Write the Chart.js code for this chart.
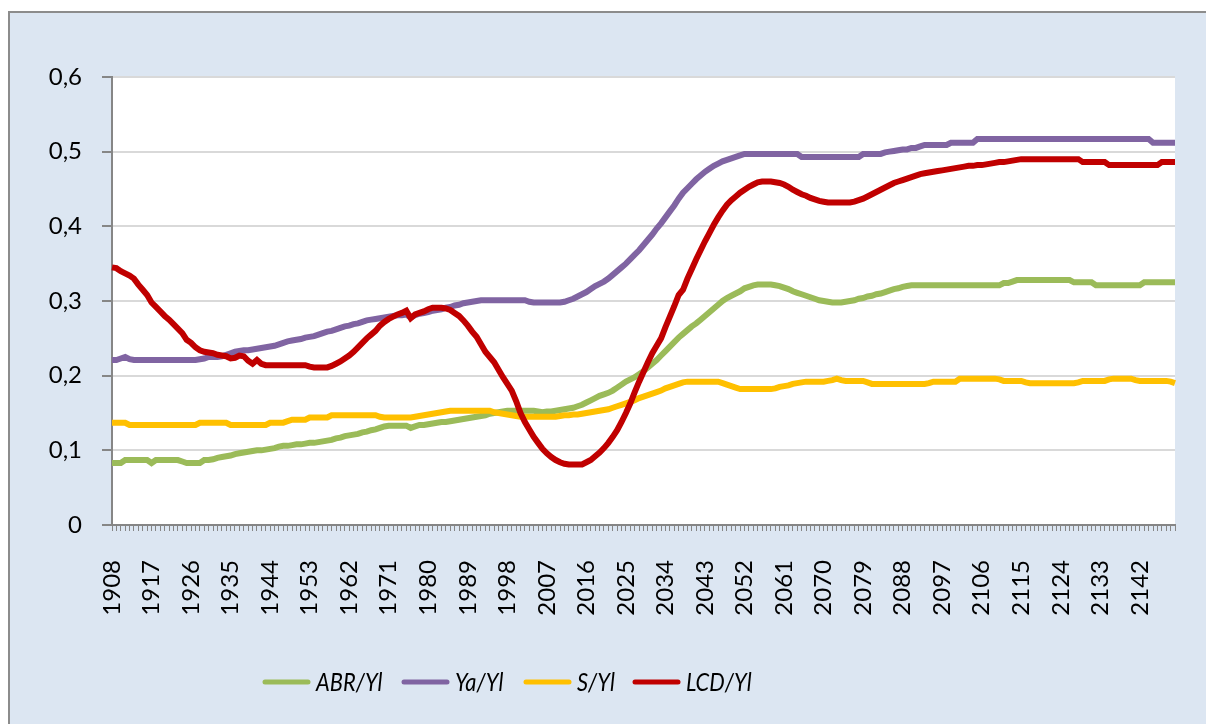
<!DOCTYPE html>
<html>
<head>
<meta charset="utf-8">
<script src="https://cdn.jsdelivr.net/npm/chart.js@4.4.1/dist/chart.umd.min.js"></script>
<style>
    html, body { margin: 0; padding: 0; background: #fff; }
    body { width: 1206px; height: 724px; position: relative; overflow: hidden; }
    .frame { position: absolute; left: 8px; top: 11px; width: 1220px; height: 740px; background: #dce6f2; border: 2px solid #8c8c8c; }
    .holder { position: absolute; left: 0; top: 0; width: 1206px; height: 724px; }
</style>
</head>
<body>
<div class="frame"></div>
<div class="holder"><canvas id="chart" width="1206" height="724"></canvas></div>
<script>
// categories: one per year
const YEARS = [];
for (let y = 1908; y <= 2150; y++) YEARS.push(String(y));

const SERIES_NAMES = ['ABR/Yl', 'Ya/Yl', 'S/Yl', 'LCD/Yl'];
const SERIES_COLORS = ['#9bbb59', '#8064a2', '#ffc000', '#c00000'];

// values, rows of 10 years starting 1908
const ABR_YL = [
    0.083, 0.083, 0.083, 0.087, 0.087, 0.087, 0.087, 0.087, 0.087, 0.083,
    0.087, 0.087, 0.087, 0.087, 0.087, 0.087, 0.085, 0.083, 0.083, 0.083,
    0.083, 0.087, 0.087, 0.088, 0.090, 0.091, 0.092, 0.093, 0.095, 0.096,
    0.097, 0.098, 0.099, 0.100, 0.100, 0.101, 0.102, 0.103, 0.105, 0.106,
    0.106, 0.107, 0.108, 0.108, 0.109, 0.110, 0.110, 0.111, 0.112, 0.113,
    0.114, 0.116, 0.117, 0.119, 0.120, 0.121, 0.122, 0.124, 0.125, 0.127,
    0.128, 0.130, 0.132, 0.133, 0.133, 0.133, 0.133, 0.133, 0.130, 0.132,
    0.134, 0.134, 0.135, 0.136, 0.137, 0.138, 0.138, 0.139, 0.140, 0.141,
    0.142, 0.143, 0.144, 0.145, 0.146, 0.147, 0.149, 0.150, 0.151, 0.152,
    0.153, 0.153, 0.153, 0.153, 0.153, 0.153, 0.153, 0.152, 0.151, 0.152,
    0.152, 0.153, 0.154, 0.155, 0.156, 0.157, 0.159, 0.161, 0.164, 0.167,
    0.170, 0.173, 0.175, 0.177, 0.180, 0.184, 0.188, 0.192, 0.195, 0.198,
    0.202, 0.206, 0.211, 0.216, 0.221, 0.227, 0.233, 0.239, 0.245, 0.251,
    0.256, 0.261, 0.266, 0.270, 0.275, 0.280, 0.285, 0.290, 0.295, 0.300,
    0.304, 0.307, 0.310, 0.313, 0.317, 0.319, 0.321, 0.322, 0.322, 0.322,
    0.322, 0.321, 0.320, 0.318, 0.316, 0.313, 0.311, 0.309, 0.307, 0.305,
    0.303, 0.301, 0.300, 0.299, 0.298, 0.298, 0.298, 0.299, 0.300, 0.301,
    0.303, 0.304, 0.306, 0.307, 0.309, 0.310, 0.312, 0.314, 0.316, 0.317,
    0.319, 0.320, 0.321, 0.321, 0.321, 0.321, 0.321, 0.321, 0.321, 0.321,
    0.321, 0.321, 0.321, 0.321, 0.321, 0.321, 0.321, 0.321, 0.321, 0.321,
    0.321, 0.321, 0.321, 0.324, 0.324, 0.326, 0.328, 0.328, 0.328, 0.328,
    0.328, 0.328, 0.328, 0.328, 0.328, 0.328, 0.328, 0.328, 0.328, 0.325,
    0.325, 0.325, 0.325, 0.325, 0.321, 0.321, 0.321, 0.321, 0.321, 0.321,
    0.321, 0.321, 0.321, 0.321, 0.321, 0.325, 0.325, 0.325, 0.325, 0.325,
    0.325, 0.325, 0.325
];

const YA_YL = [
    0.221, 0.221, 0.223, 0.225, 0.222, 0.221, 0.221, 0.221, 0.221, 0.221,
    0.221, 0.221, 0.221, 0.221, 0.221, 0.221, 0.221, 0.221, 0.221, 0.221,
    0.222, 0.223, 0.225, 0.225, 0.225, 0.226, 0.228, 0.230, 0.232, 0.233,
    0.234, 0.234, 0.235, 0.236, 0.237, 0.238, 0.239, 0.240, 0.242, 0.244,
    0.246, 0.247, 0.248, 0.249, 0.251, 0.252, 0.253, 0.255, 0.257, 0.259,
    0.260, 0.262, 0.264, 0.266, 0.267, 0.269, 0.270, 0.272, 0.274, 0.275,
    0.276, 0.277, 0.278, 0.279, 0.280, 0.281, 0.281, 0.282, 0.278, 0.281,
    0.283, 0.284, 0.285, 0.287, 0.288, 0.289, 0.291, 0.292, 0.294, 0.295,
    0.297, 0.298, 0.299, 0.300, 0.301, 0.301, 0.301, 0.301, 0.301, 0.301,
    0.301, 0.301, 0.301, 0.301, 0.301, 0.299, 0.298, 0.298, 0.298, 0.298,
    0.298, 0.298, 0.298, 0.299, 0.301, 0.303, 0.306, 0.309, 0.312, 0.316,
    0.320, 0.323, 0.326, 0.330, 0.335, 0.340, 0.345, 0.350, 0.356, 0.362,
    0.368, 0.375, 0.382, 0.389, 0.397, 0.404, 0.412, 0.420, 0.428, 0.437,
    0.445, 0.451, 0.457, 0.463, 0.468, 0.473, 0.477, 0.481, 0.484, 0.487,
    0.489, 0.491, 0.493, 0.495, 0.497, 0.497, 0.497, 0.497, 0.497, 0.497,
    0.497, 0.497, 0.497, 0.497, 0.497, 0.497, 0.497, 0.493, 0.493, 0.493,
    0.493, 0.493, 0.493, 0.493, 0.493, 0.493, 0.493, 0.493, 0.493, 0.493,
    0.493, 0.497, 0.497, 0.497, 0.497, 0.497, 0.499, 0.500, 0.501, 0.502,
    0.503, 0.503, 0.505, 0.505, 0.507, 0.509, 0.509, 0.509, 0.509, 0.509,
    0.509, 0.512, 0.512, 0.512, 0.512, 0.512, 0.512, 0.517, 0.517, 0.517,
    0.517, 0.517, 0.517, 0.517, 0.517, 0.517, 0.517, 0.517, 0.517, 0.517,
    0.517, 0.517, 0.517, 0.517, 0.517, 0.517, 0.517, 0.517, 0.517, 0.517,
    0.517, 0.517, 0.517, 0.517, 0.517, 0.517, 0.517, 0.517, 0.517, 0.517,
    0.517, 0.517, 0.517, 0.517, 0.517, 0.517, 0.517, 0.512, 0.512, 0.512,
    0.512, 0.512, 0.512
];

const S_YL = [
    0.137, 0.137, 0.137, 0.137, 0.134, 0.134, 0.134, 0.134, 0.134, 0.134,
    0.134, 0.134, 0.134, 0.134, 0.134, 0.134, 0.134, 0.134, 0.134, 0.134,
    0.137, 0.137, 0.137, 0.137, 0.137, 0.137, 0.137, 0.134, 0.134, 0.134,
    0.134, 0.134, 0.134, 0.134, 0.134, 0.134, 0.137, 0.137, 0.137, 0.137,
    0.139, 0.141, 0.141, 0.141, 0.141, 0.144, 0.144, 0.144, 0.144, 0.144,
    0.147, 0.147, 0.147, 0.147, 0.147, 0.147, 0.147, 0.147, 0.147, 0.147,
    0.147, 0.145, 0.144, 0.144, 0.144, 0.144, 0.144, 0.144, 0.144, 0.145,
    0.146, 0.147, 0.148, 0.149, 0.150, 0.151, 0.152, 0.153, 0.153, 0.153,
    0.153, 0.153, 0.153, 0.153, 0.153, 0.153, 0.153, 0.151, 0.150, 0.149,
    0.148, 0.147, 0.146, 0.145, 0.145, 0.145, 0.145, 0.145, 0.145, 0.145,
    0.145, 0.145, 0.146, 0.147, 0.147, 0.148, 0.148, 0.149, 0.150, 0.151,
    0.152, 0.153, 0.154, 0.155, 0.157, 0.159, 0.161, 0.163, 0.165, 0.167,
    0.170, 0.172, 0.174, 0.176, 0.178, 0.180, 0.183, 0.185, 0.187, 0.189,
    0.191, 0.192, 0.192, 0.192, 0.192, 0.192, 0.192, 0.192, 0.192, 0.190,
    0.188, 0.186, 0.184, 0.182, 0.182, 0.182, 0.182, 0.182, 0.182, 0.182,
    0.182, 0.183, 0.185, 0.186, 0.187, 0.189, 0.190, 0.191, 0.192, 0.192,
    0.192, 0.192, 0.192, 0.193, 0.194, 0.196, 0.194, 0.193, 0.193, 0.193,
    0.193, 0.193, 0.191, 0.189, 0.189, 0.189, 0.189, 0.189, 0.189, 0.189,
    0.189, 0.189, 0.189, 0.189, 0.189, 0.189, 0.190, 0.192, 0.192, 0.192,
    0.192, 0.192, 0.192, 0.196, 0.196, 0.196, 0.196, 0.196, 0.196, 0.196,
    0.196, 0.196, 0.195, 0.193, 0.193, 0.193, 0.193, 0.193, 0.191, 0.190,
    0.190, 0.190, 0.190, 0.190, 0.190, 0.190, 0.190, 0.190, 0.190, 0.190,
    0.191, 0.193, 0.193, 0.193, 0.193, 0.193, 0.193, 0.195, 0.196, 0.196,
    0.196, 0.196, 0.196, 0.194, 0.193, 0.193, 0.193, 0.193, 0.193, 0.193,
    0.193, 0.192, 0.190
];

const LCD_YL = [
    0.345, 0.344, 0.340, 0.337, 0.334, 0.330, 0.322, 0.315, 0.308, 0.298,
    0.292, 0.286, 0.280, 0.275, 0.269, 0.263, 0.257, 0.248, 0.244, 0.238,
    0.234, 0.232, 0.231, 0.230, 0.228, 0.227, 0.226, 0.223, 0.224, 0.227,
    0.226, 0.220, 0.216, 0.221, 0.216, 0.214, 0.214, 0.214, 0.214, 0.214,
    0.214, 0.214, 0.214, 0.214, 0.214, 0.212, 0.211, 0.211, 0.211, 0.211,
    0.213, 0.216, 0.219, 0.223, 0.227, 0.232, 0.238, 0.244, 0.250, 0.255,
    0.260, 0.267, 0.272, 0.276, 0.279, 0.282, 0.284, 0.287, 0.277, 0.282,
    0.284, 0.286, 0.289, 0.291, 0.291, 0.291, 0.290, 0.288, 0.284, 0.280,
    0.274, 0.267, 0.259, 0.252, 0.242, 0.232, 0.225, 0.218, 0.208, 0.198,
    0.189, 0.180, 0.166, 0.150, 0.138, 0.128, 0.118, 0.110, 0.102, 0.096,
    0.091, 0.087, 0.084, 0.082, 0.081, 0.081, 0.081, 0.081, 0.084, 0.087,
    0.092, 0.097, 0.103, 0.110, 0.118, 0.127, 0.138, 0.150, 0.163, 0.178,
    0.192, 0.205, 0.218, 0.230, 0.240, 0.250, 0.265, 0.279, 0.293, 0.308,
    0.315, 0.330, 0.343, 0.356, 0.368, 0.380, 0.391, 0.402, 0.412, 0.421,
    0.429, 0.435, 0.440, 0.445, 0.449, 0.453, 0.456, 0.459, 0.460, 0.460,
    0.460, 0.459, 0.458, 0.456, 0.453, 0.449, 0.446, 0.443, 0.441, 0.438,
    0.436, 0.434, 0.433, 0.432, 0.432, 0.432, 0.432, 0.432, 0.432, 0.433,
    0.435, 0.437, 0.440, 0.443, 0.446, 0.449, 0.452, 0.455, 0.458, 0.460,
    0.462, 0.464, 0.466, 0.468, 0.470, 0.471, 0.472, 0.473, 0.474, 0.475,
    0.476, 0.477, 0.478, 0.479, 0.480, 0.481, 0.481, 0.482, 0.482, 0.483,
    0.484, 0.485, 0.486, 0.486, 0.487, 0.488, 0.489, 0.490, 0.490, 0.490,
    0.490, 0.490, 0.490, 0.490, 0.490, 0.490, 0.490, 0.490, 0.490, 0.490,
    0.490, 0.486, 0.486, 0.486, 0.486, 0.486, 0.486, 0.482, 0.482, 0.482,
    0.482, 0.482, 0.482, 0.482, 0.482, 0.482, 0.482, 0.482, 0.482, 0.486,
    0.486, 0.486, 0.486
];

const SERIES_VALUES = [ABR_YL, YA_YL, S_YL, LCD_YL];

const FONT = 'Lato, "Noto Sans", sans-serif';
const LEGEND_FONT = 'italic 26px Lato, sans-serif';

// white plot area
const plotBackground = {
    id: 'plotBackground',
    beforeDraw(chart) {
        const { ctx, chartArea: a } = chart;
        ctx.save();
        ctx.fillStyle = '#ffffff';
        ctx.fillRect(a.left, a.top, a.right - a.left, a.bottom - a.top);
        ctx.restore();
    }
};

// legend sits left of centre in the original, so draw it by hand
const LEGEND_X = [263, 402, 524, 633];
const LEGEND_Y = 682;
const bottomLegend = {
    id: 'bottomLegend',
    afterDraw(chart) {
        const ctx = chart.ctx;
        chart.data.datasets.forEach((ds, i) => {
            const x = LEGEND_X[i];
            ctx.save();
            ctx.strokeStyle = ds.borderColor;
            ctx.lineWidth = 5;
            ctx.lineCap = 'round';
            ctx.beginPath();
            ctx.moveTo(x + 2, LEGEND_Y);
            ctx.lineTo(x + 45, LEGEND_Y);
            ctx.stroke();
            // the original face is narrower than Lato, squeeze it a little
            ctx.translate(x + 53, LEGEND_Y + 1);
            ctx.scale(0.84, 1);
            ctx.font = LEGEND_FONT;
            ctx.textBaseline = 'middle';
            ctx.fillStyle = '#000000';
            ctx.fillText(ds.label, 0, 0);
            ctx.restore();
        });
    }
};

const datasets = SERIES_NAMES.map((name, i) => ({
    label: name,
    data: SERIES_VALUES[i],
    borderColor: SERIES_COLORS[i],
    backgroundColor: SERIES_COLORS[i],
    borderWidth: 6,
    pointRadius: 0,
    tension: 0,
    order: SERIES_NAMES.length - i
}));

new Chart(document.getElementById('chart'), {
    type: 'line',
    data: { labels: YEARS, datasets },
    options: {
        responsive: false,
        animation: false,
        layout: { padding: { left: 0, top: 77, right: 31, bottom: 0 } },
        plugins: { legend: { display: false }, tooltip: { enabled: false } },
        scales: {
            x: {
                type: 'category',
                offset: false,
                grid: { drawOnChartArea: false, color: '#868686', tickLength: 6, lineWidth: 1 },
                border: { color: '#868686', width: 2 },
                ticks: {
                    autoSkip: false,
                    minRotation: 90,
                    maxRotation: 90,
                    padding: 29,
                    color: '#000000',
                    font: { family: FONT, size: 24 },
                    callback: (v, i) => (i % 9 === 0 ? YEARS[i] : '')
                },
                afterFit: (s) => {
                    s.height = 199;
                    s.paddingLeft = 0;
                    s.paddingRight = 0;
                }
            },
            y: {
                min: 0,
                max: 0.6,
                grid: { color: '#d9d9d9', lineWidth: 2, tickColor: '#868686', tickLength: 10 },
                border: { color: '#868686', width: 2 },
                ticks: {
                    stepSize: 0.1,
                    padding: 20,
                    color: '#000000',
                    font: { family: FONT, size: 24 },
                    callback: (v) => (v === 0 ? '0' : v.toFixed(1).replace('.', ','))
                },
                afterFit: (s) => { s.width = 112; }
            }
        }
    },
    plugins: [plotBackground, bottomLegend]
});
</script>
</body>
</html>
